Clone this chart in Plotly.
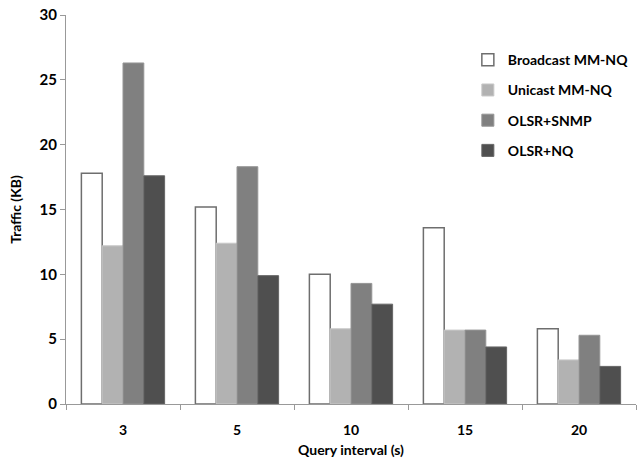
import plotly.graph_objects as go

# Query intervals (s) and measured traffic (KB) per scheme
intervals = ["3", "5", "10", "15", "20"]
broadcast_mm_nq = [17.8, 15.2, 10.0, 13.6, 5.8]
unicast_mm_nq = [12.2, 12.4, 5.8, 5.7, 3.4]
olsr_snmp = [26.3, 18.3, 9.3, 5.7, 5.3]
olsr_nq = [17.6, 9.9, 7.7, 4.4, 2.9]

y_ticks = [0, 5, 10, 15, 20, 25, 30]

series = [
    ("Broadcast MM-NQ", broadcast_mm_nq, "#ffffff", "#6e6e6e", 1.5),
    ("Unicast MM-NQ", unicast_mm_nq, "#b2b2b2", "#c8c8c8", 1),
    ("OLSR+SNMP", olsr_snmp, "#808080", "#959595", 1),
    ("OLSR+NQ", olsr_nq, "#4f4f4f", "#666666", 1),
]

font_family = "Lato, 'Open Sans', sans-serif"
bold14 = dict(family=font_family, size=14, color="#000000", weight="bold")

fig = go.Figure()
for i, (name, vals, fill, edge, lw) in enumerate(series):
    fig.add_trace(go.Bar(
        name=name,
        x=intervals,
        y=vals,
        marker=dict(color=fill, line=dict(color=edge, width=lw)),
        legendgroup=f"g{i}",
    ))

fig.update_layout(
    width=637,
    height=459,
    barmode="group",
    bargap=0.27,
    bargroupgap=0,
    plot_bgcolor="white",
    paper_bgcolor="white",
    margin=dict(l=66, r=1, t=15, b=55),
    font=dict(family=font_family, size=13, color="#000000"),
    legend=dict(
        x=0.705, y=0.925, xanchor="left", yanchor="top",
        font=bold14,
        tracegroupgap=9,
        itemwidth=30,
        bgcolor="rgba(0,0,0,0)",
    ),
    xaxis=dict(
        type="category",
        showline=True, linecolor="#999999", linewidth=1,
        ticks="outside", tickson="boundaries", ticklen=5, tickcolor="#999999",
        tickfont=bold14,
        ticklabelstandoff=13,
        title=dict(text="Query interval (s)", standoff=8, font=bold14),
        showgrid=False, automargin=False,
    ),
    yaxis=dict(
        range=[0, 30],
        tickvals=y_ticks,
        showline=True, linecolor="#999999", linewidth=1,
        ticks="outside", ticklen=5, tickcolor="#999999",
        tickfont=dict(family=font_family, size=15, weight="bold"),
        title=dict(text="Traffic (KB)", standoff=14, font=bold14),
        showgrid=False, zeroline=False,
    ),
)

fig.write_html("out.html")
